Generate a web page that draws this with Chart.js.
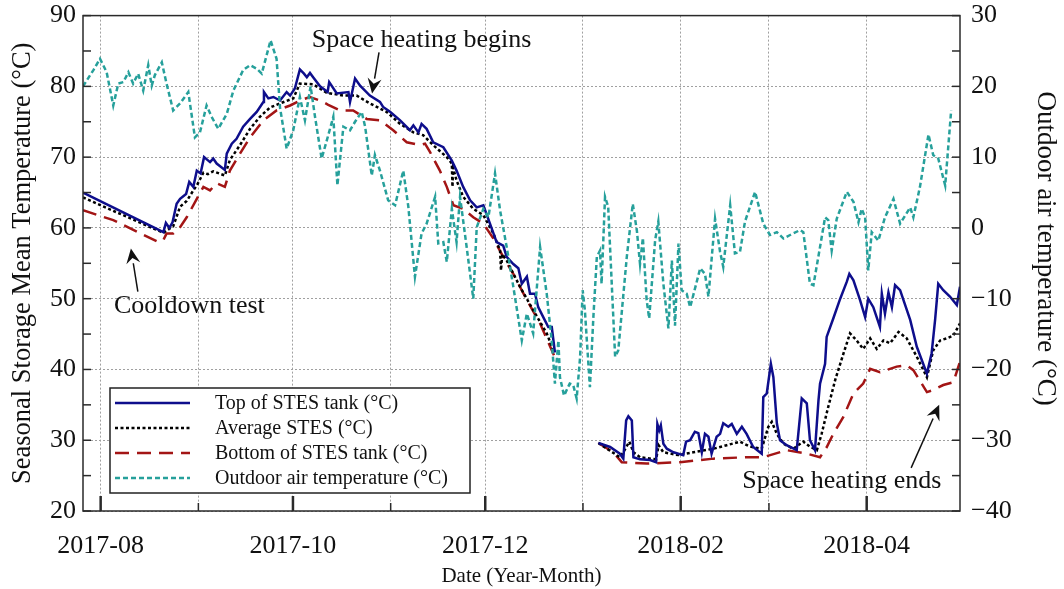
<!DOCTYPE html>
<html>
<head>
<meta charset="utf-8">
<script src="https://cdn.jsdelivr.net/npm/chart.js@4.4.1/dist/chart.umd.min.js"></script>
<style>
  html, body { margin: 0; padding: 0; background: #fff; }
  #wrap { width: 1064px; height: 589px; }
</style>
</head>
<body>
<div id="wrap"><canvas id="stesChart" width="1064" height="589"></canvas></div>
<script>
// days are counted from 2017-08-01
const monthDays = [0, 31, 61, 92, 122, 153, 184, 212, 243];
const monthLabels = ["2017-08", "2017-09", "2017-10", "2017-11", "2017-12",
                     "2018-01", "2018-02", "2018-03", "2018-04"];

const topDays = [-5.6, 19.9, 20.7, 21.8, 22.8, 24.1, 25.2, 27.1, 28.1, 29.4, 30.5, 31.7, 32.8, 34.7, 35.7, 36.8,
  39.4, 40.0, 41.6, 43.1, 45.2, 47.4, 49.5, 51.6, 51.8, 53.2, 54.8, 56.9, 59.0, 60.1, 61.6, 63.2, 64.5, 65.4,
  66.4, 67.4, 69.6, 72.0, 72.5, 74.9, 78.6, 79.1, 80.7, 82.3, 85.4, 88.6, 89.6, 91.8, 95.0, 98.1, 99.2, 100.8,
  101.8, 103.4, 105.5, 108.7, 111.4, 112.9, 115.0, 117.2, 119.3, 121.4, 123.5, 125.6, 127.7, 128.8, 130.9,
  132.5, 133.6, 135.2, 136.2, 137.8, 138.8, 140.4, 142.0, 143.1, 144.1,
  150,
  157.9, 161.6, 164.7, 165.8, 166.7, 167.4, 168.5, 169.0, 171.1, 174.3, 176.2, 176.6, 177.2, 177.7, 178.5,
  179.6, 181.7, 184.8, 185.7, 187.0, 188.5, 189.6, 190.7, 191.7, 192.8, 193.8, 195.4, 196.5, 197.5, 199.1,
  200.2, 201.8, 203.4, 204.9, 207.0, 209.7, 210.2, 211.3, 212.6, 213.4, 214.5, 215.5, 217.6, 220.8, 222.4,
  224.0, 225.0, 226.6, 227.7, 228.2, 229.8, 230.3, 232.4, 234.6, 236.7, 237.5, 238.8, 240.9, 242.5, 243.5,
  245.1, 247.2, 247.8, 248.8, 249.9, 251.0, 252.0, 253.6, 256.8, 258.9, 262.1, 263.6, 264.7, 265.7, 267.3,
  269.4, 271.6, 272.6];
const topTemps = [65.0, 59.4, 60.7, 60.0, 60.8, 63.4, 64.1, 64.8, 66.5, 65.8, 68.1, 67.7, 70.0, 69.3, 69.8, 69.1,
  68.2, 70.5, 71.9, 72.6, 74.3, 75.4, 76.4, 77.8, 79.2, 78.3, 78.5, 78.0, 79.2, 78.7, 79.7, 82.4, 81.8, 81.3,
  81.9, 81.3, 80.0, 79.2, 80.6, 79.0, 79.2, 77.8, 81.1, 80.1, 78.7, 77.8, 77.1, 76.4, 75.2, 73.8, 74.5, 73.5,
  74.7, 74.0, 72.1, 71.4, 69.5, 68.1, 65.8, 63.9, 62.9, 63.2, 60.6, 58.0, 57.5, 55.9, 54.9,
  54.3, 52.1, 53.1, 50.7, 50.7, 48.8, 47.4, 46.0, 46.0, 42.4,
  null,
  29.6, 29.05, 28.1, 27.4, 32.8, 33.4, 32.8, 27.6, 27.3, 27.2, 26.9, 32.3, 31.4, 32.1, 29.5,
  28.8, 28.3, 27.9, 29.8, 30.0, 31.2, 31.0, 28.3, 30.9, 30.5, 28.1, 30.5, 30.9, 32.4, 31.9,
  32.3, 30.9, 31.9, 30.9, 29.05, 28.1, 36.1, 36.6, 40.8, 38.9, 32.4, 30.0, 29.3, 28.6, 35.9,
  35.2, 30.0, 28.6, 35.6, 38.0, 40.8, 44.6, 47.2, 50.0, 52.4, 53.5, 52.6, 49.8, 47.4, 50.0,
  48.8, 46.0, 50.7, 47.9, 50.9, 48.8, 51.9, 51.2, 47.0, 43.2, 39.4, 42.3, 47.0, 52.1, 51.2,
  50.3, 49.1, 51.7];

const avgDays = [-5.6, 19.9, 21.5, 23.0, 25.2, 27.3, 29.4, 30.5, 32.6, 34.0, 35.7, 39.4, 41.0, 44.2, 47.4, 50.5,
  53.7, 56.9, 61.1, 63.2, 67.4, 71.7, 77.0, 81.2, 85.4, 90.7, 95.0, 99.2, 102.3, 105.5, 109.8, 111.4, 111.6,
  111.8, 112.9, 115.0, 118.2, 121.4, 124.6, 126.7, 127.0, 127.4, 128.8, 133.0, 137.2, 141.5, 143.8,
  150,
  157.9, 164.7, 165.8, 167.7, 169.0, 171.1, 176.2, 177.0, 178.5, 183.2, 188.0, 194.4, 198.6, 202.8, 206.0,
  209.7, 211.8, 212.9, 214.5, 216.6, 219.7, 222.9, 225.0, 227.2, 228.7, 230.8, 233.0, 235.6, 237.7, 239.8,
  241.9, 244.1, 246.2, 248.3, 250.4, 253.1, 255.7, 258.9, 262.1, 264.1, 266.3, 268.4, 270.5, 272.6];
const avgTemps = [64.3, 59.3, 59.8, 60.2, 63.0, 63.8, 65.3, 66.0, 67.8, 67.6, 68.0, 67.4, 69.6, 71.7, 74.0, 75.7,
  77.0, 77.6, 78.3, 80.4, 80.3, 79.1, 78.7, 78.7, 77.6, 76.4, 74.7, 73.5, 73.1, 71.7, 70.0, 69.1, 65.8,
  68.5, 66.7, 64.4, 62.7, 61.8, 59.2, 56.8, 54.0, 56.3, 55.4, 51.7, 48.4, 45.1, 42.5,
  null,
  29.6, 27.6, 28.3, 29.8, 28.3, 27.6, 27.3, 29.3, 28.3, 27.9, 28.3, 28.8, 29.3, 29.8, 29.1,
  28.8, 31.9, 32.6, 30.9, 29.5, 28.8, 29.8, 29.1, 28.6, 30.9, 34.7, 38.5, 42.2, 45.1, 44.1,
  42.9, 44.4, 42.9, 44.1, 43.7, 45.3, 44.4, 41.8, 38.9, 42.7, 44.1, 44.4, 44.8, 46.5];

const bottomDays = [-5.6, 4.0, 18.3, 19.9, 20.9, 23.0, 25.2, 27.3, 30.5, 32.6, 34.7, 36.8, 39.4, 41.0, 44.2, 47.4,
  51.6, 55.8, 60.1, 63.2, 66.4, 69.6, 72.2, 75.9, 80.1, 84.4, 88.6, 92.8, 97.1, 101.3, 102.9, 104.5, 107.6,
  109.8, 111.9, 115.0, 118.2, 121.4, 124.6, 127.7, 130.9, 135.2, 139.4, 143.8,
  150,
  157.9, 162.6, 165.3, 173.2, 183.8, 194.4, 204.9, 210.2, 217.6, 224.0, 228.2, 230.3, 232.4, 235.6, 238.8,
  241.9, 244.1, 247.2, 252.5, 255.7, 257.8, 262.1, 264.1, 267.3, 270.5, 272.6];
const bottomTemps = [62.5, 61.1, 58.0, 58.3, 59.2, 59.2, 60.1, 61.5, 64.1, 65.8, 65.3, 66.3, 65.8, 68.1, 70.5, 72.8,
  75.2, 76.6, 77.3, 78.0, 78.5, 78.0, 77.4, 76.6, 76.6, 75.4, 75.2, 73.8, 72.1, 71.7, 71.9, 70.7, 68.1,
  65.8, 63.2, 62.7, 61.5, 60.6, 58.5, 55.9, 53.5, 49.8, 46.5, 42.0,
  null,
  29.6, 28.3, 26.9, 26.7, 26.9, 27.4, 27.6, 27.6, 28.6, 28.1, 27.6, 29.0, 30.9, 33.3, 36.6,
  38.0, 40.1, 39.6, 40.4, 40.6, 39.9, 36.8, 37.1, 37.8, 38.2, 41.1];

const outdoorDays = [-5.6, -2.3, -0.2, 1.9, 4.0, 5.6, 7.2, 8.8, 10.3, 11.9, 13.5, 15.1, 16.2, 17.2, 19.4, 20.9,
  23.0, 25.2, 27.8, 29.9, 31.5, 33.6, 35.2, 37.3, 40.0, 42.1, 45.2, 47.4, 49.5, 51.1, 53.9, 55.8, 56.9,
  59.0, 61.1, 63.2, 64.8, 66.6, 68.0, 70.1, 71.7, 73.8, 75.1, 77.0, 79.1, 80.7, 82.8, 83.9, 86.0, 87.0,
  88.6, 91.2, 93.4, 96.0, 97.6, 99.7, 101.8, 103.4, 106.1, 107.1, 108.7, 109.8, 111.4, 112.9, 114.0, 116.1,
  118.2, 119.3, 121.4, 123.0, 125.1, 126.7, 128.8, 130.9, 133.6, 135.2, 137.2, 139.4, 141.5, 143.1, 144.1,
  145.2, 145.7, 147.0, 148.8, 149.9, 151.0, 152.1, 152.9, 153.6, 155.2, 156.3, 157.4, 158.4, 158.9, 160.0,
  161.0, 163.2, 164.2, 166.9, 168.8, 170.1, 171.1, 172.0, 173.2, 174.0, 175.9, 176.9, 178.5, 180.1, 181.2,
  182.2, 183.3, 184.3, 185.9, 187.0, 190.2, 191.7, 192.8, 194.9, 196.5, 197.5, 199.7, 201.2, 202.8, 204.4,
  207.6, 210.2, 212.3, 214.5, 216.6, 218.7, 221.9, 222.9, 225.0, 226.1, 228.2, 229.8, 230.8, 231.9, 233.5,
  236.7, 238.8, 240.4, 241.4, 242.5, 243.5, 244.6, 246.7, 248.8, 251.5, 253.6, 256.8, 257.8, 259.9, 262.6,
  264.1, 265.7, 267.9, 269.8];
const outdoorTemps = [20.0, 22.3, 23.9, 22.0, 17.3, 20.4, 20.6, 22.0, 20.4, 21.8, 19.4, 23.0, 20.1, 21.6, 23.4, 20.4,
  16.6, 17.6, 19.2, 12.8, 13.5, 17.3, 15.7, 14.0, 16.1, 19.4, 22.3, 23.0, 22.5, 21.8, 26.5, 23.9, 17.0,
  11.2, 13.8, 18.5, 15.2, 20.0, 15.7, 9.8, 12.3, 15.7, 6.0, 14.3, 13.8, 15.0, 16.4, 14.3, 7.4, 10.3,
  8.1, 3.9, 3.2, 8.1, 3.0, -6.9, -0.8, 0.6, 4.4, -2.2, -2.0, -4.8, 2.7, -2.0, 4.4, -2.7,
  -10.0, 0.1, 2.7, 1.5, 7.7, 2.5, -2.7, -8.3, -15.9, -12.1, -14.9, -2.7, -9.3, -16.0, -22.0,
  -15.9, -21.1, -23.7, -22.0, -22.2, -24.1, -18.2, -8.8, -11.6, -22.5, -12.6, -4.1, -3.2, -7.9, 4.4,
  3.0, -18.2, -17.3, -4.1, 3.4, -0.4, -5.1, -1.4, -10.2, -12.8, -1.7, 0.9, -7.9, -14.2, -4.6,
  -13.8, -2.2, -8.8, -9.3, -11.2, -5.7, -6.5, -9.7, 1.3, -3.4, -5.5, 3.2, -3.6, -3.4, 0.9,
  5.1, 0.6, -1.0, -0.6, -1.5, -1.0, -0.3, -0.6, -7.9, -8.1, -2.7, 1.5, 1.1, -3.2, 1.3,
  5.1, 3.7, 0.8, 2.7, 1.5, -6.0, -0.6, -1.8, 1.5, 4.1, 0.6, 2.9, 1.5, 5.8, 13.2,
  10.3, 9.8, 6.0, 16.6];

const SERIF = '"Liberation Serif", "Times New Roman", serif';
const INK = "#111";
const GRID = "#a0a0a0";

function pts(days, temps) {
  return days.map((d, i) => ({ x: d, y: temps[i] }));
}

// box, inward tick marks
const frameAndTicks = {
  id: "frameAndTicks",
  afterDatasetsDraw(chart) {
    const { ctx, chartArea: a, scales } = chart;
    ctx.save();
    ctx.strokeStyle = "#2a2a2a";
    ctx.lineCap = "butt";
    ctx.lineWidth = 1.5;
    for (let v = 20; v <= 90; v += 5) {
      const y = scales.y.getPixelForValue(v);
      ctx.beginPath(); ctx.moveTo(a.left, y); ctx.lineTo(a.left + 8, y); ctx.stroke();
    }
    for (let v = -40; v <= 30; v += 5) {
      const y = scales.y2.getPixelForValue(v);
      ctx.beginPath(); ctx.moveTo(a.right, y); ctx.lineTo(a.right - 8, y); ctx.stroke();
    }
    monthDays.forEach((d, i) => {
      const x = scales.x.getPixelForValue(d);
      const major = i % 2 === 0;
      ctx.lineWidth = major ? 2.5 : 1.5;
      ctx.beginPath(); ctx.moveTo(x, a.bottom); ctx.lineTo(x, a.bottom - (major ? 15 : 8)); ctx.stroke();
    });
    ctx.lineWidth = 1.5;
    ctx.strokeRect(a.left, a.top, a.right - a.left, a.bottom - a.top);
    ctx.restore();
  }
};

// legend box in the lower left of the plot
const boxLegend = {
  id: "boxLegend",
  afterDraw(chart) {
    const { ctx, chartArea: a } = chart;
    const left = a.left + 27, top = a.bottom - 123, w = 360, h = 105;
    ctx.save();
    ctx.fillStyle = "#fff";
    ctx.fillRect(left, top, w, h);
    ctx.strokeStyle = "#222";
    ctx.lineWidth = 1.5;
    ctx.strokeRect(left, top, w, h);
    ctx.font = "20px " + SERIF;
    ctx.textBaseline = "middle";
    chart.data.datasets.forEach((ds, i) => {
      const y = top + 15 + i * 25;
      ctx.strokeStyle = ds.borderColor;
      ctx.lineWidth = ds.borderWidth;
      ctx.setLineDash(ds.borderDash || []);
      ctx.beginPath(); ctx.moveTo(left + 5, y); ctx.lineTo(left + 80, y); ctx.stroke();
      ctx.setLineDash([]);
      ctx.fillStyle = INK;
      ctx.fillText(ds.label, left + 105, y + 1);
    });
    ctx.restore();
  }
};

// right axis title, set a little above the middle as in the original
const rightTitle = {
  id: "rightTitle",
  afterDraw(chart) {
    const { ctx, chartArea: a } = chart;
    ctx.save();
    ctx.translate(a.right + 85, a.top + 233);
    ctx.rotate(Math.PI / 2);
    ctx.font = "27px " + SERIF;
    ctx.fillStyle = INK;
    ctx.textAlign = "center";
    ctx.textBaseline = "middle";
    ctx.fillText("Outdoor air temperature (°C)", 0, 0);
    ctx.restore();
  }
};

// text notes with arrows, anchored in data units (day, left-axis temperature)
const notes = [
  { text: "Space heating begins", at: [67.0, 85.5], tail: [88.3, 84.8], head: [86.1, 79.0] },
  { text: "Cooldown test", at: [4.2, 48.0], tail: [11.8, 51.0], head: [9.6, 57.1] },
  { text: "Space heating ends", at: [203.5, 23.3], tail: [257.1, 26.1], head: [266.0, 35.0] }
];

const arrowNotes = {
  id: "arrowNotes",
  afterDraw(chart) {
    const { ctx, scales: { x, y } } = chart;
    ctx.save();
    ctx.fillStyle = INK;
    ctx.strokeStyle = INK;
    ctx.font = "26px " + SERIF;
    ctx.textBaseline = "alphabetic";
    notes.forEach(n => {
      ctx.fillText(n.text, x.getPixelForValue(n.at[0]), y.getPixelForValue(n.at[1]));
      const x0 = x.getPixelForValue(n.tail[0]), y0 = y.getPixelForValue(n.tail[1]);
      const x1 = x.getPixelForValue(n.head[0]), y1 = y.getPixelForValue(n.head[1]);
      const ang = Math.atan2(y1 - y0, x1 - x0);
      const len = 15, half = 7;
      const bx = x1 - len * Math.cos(ang), by = y1 - len * Math.sin(ang);
      ctx.lineWidth = 1.5;
      ctx.beginPath(); ctx.moveTo(x0, y0); ctx.lineTo(bx, by); ctx.stroke();
      ctx.beginPath();
      ctx.moveTo(x1, y1);
      ctx.lineTo(bx + half * Math.sin(ang), by - half * Math.cos(ang));
      ctx.lineTo(bx + 0.35 * len * Math.cos(ang), by + 0.35 * len * Math.sin(ang));
      ctx.lineTo(bx - half * Math.sin(ang), by + half * Math.cos(ang));
      ctx.closePath();
      ctx.fill();
    });
    ctx.restore();
  }
};

Chart.defaults.font.family = SERIF;
Chart.defaults.color = INK;

const ctx = document.getElementById("stesChart").getContext("2d");
new Chart(ctx, {
  type: "line",
  data: {
    datasets: [
      {
        label: "Top of STES tank (°C)",
        data: pts(topDays, topTemps),
        borderColor: "#0e0e8c",
        borderWidth: 2.5,
        yAxisID: "y",
        order: 1
      },
      {
        label: "Average STES (°C)",
        data: pts(avgDays, avgTemps),
        borderColor: "#000",
        borderWidth: 2.5,
        borderDash: [3, 2.5],
        yAxisID: "y",
        order: 2
      },
      {
        label: "Bottom of STES tank (°C)",
        data: pts(bottomDays, bottomTemps),
        borderColor: "#a31515",
        borderWidth: 2.5,
        borderDash: [14, 8],
        yAxisID: "y",
        order: 3
      },
      {
        label: "Outdoor air temperature (°C)",
        data: pts(outdoorDays, outdoorTemps),
        borderColor: "#26a09b",
        borderWidth: 2.5,
        borderDash: [5, 3],
        yAxisID: "y2",
        order: 0
      }
    ]
  },
  options: {
    responsive: false,
    animation: false,
    spanGaps: false,
    layout: { padding: { top: 0, left: 0, right: 0, bottom: 0 } },
    elements: { point: { radius: 0 }, line: { tension: 0, fill: false } },
    plugins: { legend: { display: false }, tooltip: { enabled: false } },
    scales: {
      x: {
        type: "linear",
        min: -5.6,
        max: 272.6,
        afterBuildTicks: s => { s.ticks = monthDays.map(v => ({ value: v })); },
        afterFit: s => { s.height = 78; },
        ticks: {
          autoSkip: false,
          maxRotation: 0,
          padding: 20,
          font: { size: 26 },
          color: INK,
          callback: (v, i) => (i % 2 === 0 ? monthLabels[i] : "")
        },
        grid: { color: GRID, lineWidth: 1, drawTicks: false },
        border: { display: false, dash: [2, 2] },
        title: {
          display: true,
          text: "Date (Year-Month)",
          font: { size: 21 },
          color: INK,
          padding: { top: 0, bottom: 0 }
        }
      },
      y: {
        position: "left",
        min: 20,
        max: 90,
        afterFit: s => { s.width = 83; },
        ticks: { stepSize: 10, padding: 0, font: { size: 26 }, color: INK },
        grid: { color: GRID, lineWidth: 1, drawTicks: true, tickLength: 7, tickColor: "rgba(0,0,0,0)" },
        border: { display: false, dash: [2, 2] },
        title: {
          display: true,
          text: "Seasonal Storage Mean Temperature (°C)",
          font: { size: 26.5 },
          color: INK,
          padding: { top: 7, bottom: 0 }
        }
      },
      y2: {
        position: "right",
        min: -40,
        max: 30,
        afterFit: s => { s.width = 104; },
        ticks: {
          stepSize: 10,
          padding: 0,
          font: { size: 26 },
          color: INK,
          callback: v => (v < 0 ? "\u2212" + Math.abs(v) : String(v))
        },
        grid: { display: false, drawTicks: true, tickLength: 11 },
        border: { display: false }
      }
    }
  },
  plugins: [frameAndTicks, boxLegend, rightTitle, arrowNotes]
});
</script>
</body>
</html>
